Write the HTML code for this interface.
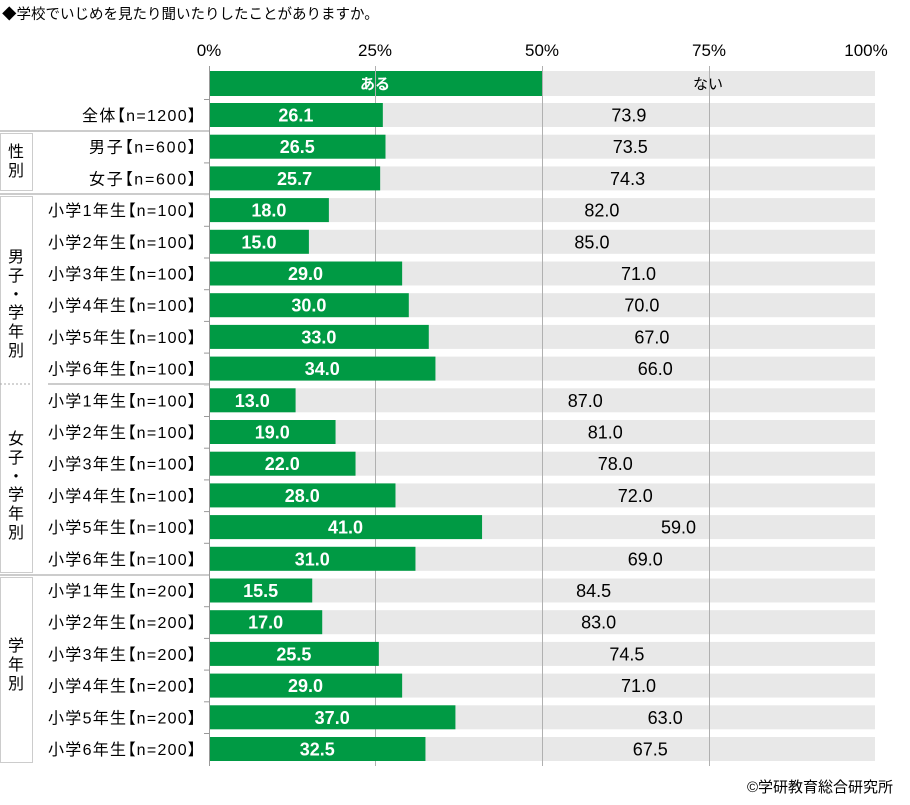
<!DOCTYPE html>
<html><head><meta charset="utf-8"><style>
body{margin:0;background:#fff;width:910px;height:800px;overflow:hidden;font-family:"Liberation Sans","Noto Sans CJK JP",sans-serif;}
svg text{font-family:"Liberation Sans","Noto Sans CJK JP",sans-serif;}
.lb{font-feature-settings:"palt";}
</style></head><body>
<svg width="910" height="800" xmlns="http://www.w3.org/2000/svg">
<text x="2" y="19" font-size="14.5" fill="#000">◆学校でいじめを見たり聞いたりしたことがありますか。</text>
<g font-size="17" fill="#000" text-anchor="middle">
<text x="209" y="56">0%</text><text x="375" y="56">25%</text><text x="542" y="56">50%</text><text x="709" y="56">75%</text><text x="866" y="56">100%</text>
</g>
<rect x="209" y="71" width="666" height="25" fill="#e8e8e8"/>
<rect x="209" y="71" width="333" height="25" fill="#009a44"/>
<text x="375" y="89" font-size="15" fill="#fff" text-anchor="middle" font-weight="bold">ある</text>
<text x="708" y="89" font-size="15" fill="#000" text-anchor="middle">ない</text>
<g id="rows"></g>
<g stroke="#b0b0b0" stroke-width="1">
<line x1="375.5" y1="66" x2="375.5" y2="766"/><line x1="542.5" y1="66" x2="542.5" y2="766"/><line x1="709.5" y1="66" x2="709.5" y2="766"/>
</g>
<g id="bars"></g>
<line x1="209.5" y1="66" x2="209.5" y2="766" stroke="#999"/>
<g stroke="#ccc" stroke-width="2">
<line x1="0" y1="131" x2="209" y2="131"/><line x1="0" y1="194" x2="209" y2="194"/>
<line x1="48" y1="384" x2="209" y2="384"/><line x1="0" y1="575" x2="209" y2="575"/>
</g>
<g fill="none" stroke="#ccc" stroke-width="1">
<rect x="0.5" y="133.5" width="32" height="57"/>
<rect x="0.5" y="196.5" width="32" height="376"/>
<rect x="0.5" y="577.5" width="32" height="185"/>
</g>
<line x1="0" y1="384" x2="32" y2="384" stroke="#aaa" stroke-dasharray="2,2"/>
<g font-size="16" fill="#000" text-anchor="middle">
<text x="16" y="157">性</text><text x="16" y="176">別</text>
<text x="16" y="262">男</text><text x="16" y="281">子</text><text x="16" y="300">・</text><text x="16" y="318">学</text><text x="16" y="337">年</text><text x="16" y="356">別</text>
<text x="16" y="444">女</text><text x="16" y="463">子</text><text x="16" y="482">・</text><text x="16" y="500">学</text><text x="16" y="519">年</text><text x="16" y="538">別</text>
<text x="16" y="651">学</text><text x="16" y="670">年</text><text x="16" y="689">別</text>
</g>
<text x="893" y="792" font-size="15" fill="#000" text-anchor="end">©学研教育総合研究所</text>
</svg>
<script>
var d=[["全体【n=1200】",26.1,114],["男子【n=600】",26.5,107],["女子【n=600】",25.7,107],
["小学1年生【n=100】",18],["小学2年生【n=100】",15],["小学3年生【n=100】",29],["小学4年生【n=100】",30],["小学5年生【n=100】",33],["小学6年生【n=100】",34],
["小学1年生【n=100】",13],["小学2年生【n=100】",19],["小学3年生【n=100】",22],["小学4年生【n=100】",28],["小学5年生【n=100】",41],["小学6年生【n=100】",31],
["小学1年生【n=200】",15.5],["小学2年生【n=200】",17],["小学3年生【n=200】",25.5],["小学4年生【n=200】",29],["小学5年生【n=200】",37],["小学6年生【n=200】",32.5]];
var ns="http://www.w3.org/2000/svg",R=document.getElementById("rows"),B=document.getElementById("bars");
function el(p,t,a,tx){var e=document.createElementNS(ns,t);for(var k in a)e.setAttribute(k,a[k]);if(tx)e.textContent=tx;p.appendChild(e);return e;}
d.forEach(function(r,i){var y=103+i*31.7,w=666*r[1]/100,v=r[1],L=r[2]||148;
el(R,"rect",{x:209,y:y,width:666,height:24,fill:"#e8e8e8"});
el(B,"rect",{x:209,y:y,width:w,height:24,fill:"#009a44"});
el(B,"line",{x1:204,y1:y-3.5,x2:209,y2:y-3.5,stroke:"#999"});
el(B,"text",{x:209+w/2,y:y+18.5,"font-size":18,"font-weight":"bold",fill:"#fff","text-anchor":"middle"},v.toFixed(1));
el(B,"text",{x:209+w+(666-w)/2,y:y+18.5,"font-size":18,fill:"#000","text-anchor":"middle"},(100-v).toFixed(1));
el(B,"text",{x:196-L,y:y+18,"font-size":16,fill:"#000","class":"lb",textLength:L,lengthAdjust:"spacing"},r[0]);});
</script>
</body></html>
